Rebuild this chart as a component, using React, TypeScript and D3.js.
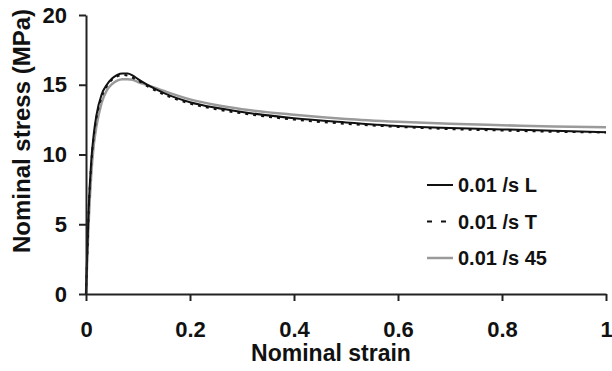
import { useEffect, useRef } from 'react';
import * as d3 from 'd3';

// strain values shared by all three curves
const strain = [0, 0.002, 0.005, 0.01, 0.015, 0.02, 0.03, 0.04, 0.05, 0.06, 0.07, 0.08, 0.09, 0.1, 0.12, 0.15, 0.2, 0.25, 0.3, 0.4, 0.5, 0.6, 0.7, 0.8, 0.9, 1.0];

const stressL = [0, 2.5, 6, 9.5, 11.5, 12.8, 14.3, 15.0, 15.45, 15.7, 15.8, 15.8, 15.65, 15.4, 14.95, 14.4, 13.75, 13.35, 13.05, 12.6, 12.3, 12.05, 11.9, 11.8, 11.7, 11.6];
const stressT = [0, 2.3, 5.8, 9.3, 11.3, 12.6, 14.1, 14.9, 15.35, 15.6, 15.7, 15.65, 15.5, 15.3, 14.85, 14.3, 13.65, 13.25, 12.95, 12.5, 12.2, 11.98, 11.82, 11.72, 11.63, 11.58];
const stress45 = [0, 2, 5, 8.5, 10.7, 12.0, 13.7, 14.6, 15.05, 15.3, 15.4, 15.4, 15.35, 15.2, 14.95, 14.55, 13.95, 13.55, 13.25, 12.85, 12.55, 12.35, 12.2, 12.1, 12.0, 11.95];

const xTicks = [0, 0.2, 0.4, 0.6, 0.8, 1];
const yTicks = [0, 5, 10, 15, 20];

const series = [
    { name: '0.01 /s L', values: stressL, color: '#111', width: 2, dash: null, legendDash: null },
    { name: '0.01 /s T', values: stressT, color: '#111', width: 2, dash: '3,5', legendDash: '5,9' },
    { name: '0.01 /s 45', values: stress45, color: '#9a9a9a', width: 2.5, dash: null, legendDash: null },
];

const W = 612;
const H = 371;
const margin = { top: 15, right: 6, bottom: 77, left: 86 };
const font = "'Liberation Sans', Arial, sans-serif";

export default function App() {
    const svgRef = useRef<SVGSVGElement>(null);

    useEffect(() => {
        const svg = d3.select(svgRef.current);
        svg.selectAll('*').remove();

        const innerW = W - margin.left - margin.right;
        const innerH = H - margin.top - margin.bottom;

        const x = d3.scaleLinear().domain([0, 1]).range([0, innerW]);
        const y = d3.scaleLinear().domain([0, 20]).range([innerH, 0]);

        const g = svg.append('g').attr('transform', `translate(${margin.left},${margin.top})`);

        // curves (gray first so black sits on top)
        const order = [2, 0, 1];
        order.forEach(i => {
            const s = series[i];
            const line = d3.line<number>()
                .x((_, k) => x(strain[k]))
                .y(d => y(d))
                .curve(d3.curveMonotoneX);
            g.append('path')
                .attr('d', line(s.values))
                .attr('fill', 'none')
                .attr('stroke', s.color)
                .attr('stroke-width', s.width)
                .attr('stroke-dasharray', s.dash);
        });

        // axes
        const xAxis = g.append('g')
            .attr('transform', `translate(0,${innerH})`)
            .call(d3.axisBottom(x).tickValues(xTicks).tickSize(7).tickSizeOuter(0).tickPadding(20).tickFormat(d => String(d)));
        const yAxis = g.append('g')
            .call(d3.axisLeft(y).tickValues(yTicks).tickSize(7).tickSizeOuter(0).tickPadding(12));

        [xAxis, yAxis].forEach(a => {
            a.attr('font-family', font).attr('font-weight', 'bold').attr('font-size', 22);
            a.select('.domain').attr('stroke', '#222').attr('stroke-width', 2);
            a.selectAll('line').attr('stroke', '#222').attr('stroke-width', 2);
            a.selectAll('text').attr('fill', '#111');
        });

        // axis titles
        g.append('text')
            .attr('x', 331 - margin.left)
            .attr('y', 361 - margin.top)
            .attr('text-anchor', 'middle')
            .attr('font-family', font)
            .attr('font-weight', 'bold')
            .attr('font-size', 23)
            .attr('fill', '#111')
            .text('Nominal strain');

        g.append('text')
            .attr('transform', 'rotate(-90)')
            .attr('x', -(131 - margin.top))
            .attr('y', 30 - margin.left)
            .attr('text-anchor', 'middle')
            .attr('font-family', font)
            .attr('font-weight', 'bold')
            .attr('font-size', 24)
            .attr('fill', '#111')
            .text('Nominal stress (MPa)');

        // legend
        const legend = g.append('g').attr('transform', `translate(${427 - margin.left},${185 - margin.top})`);
        series.forEach((s, i) => {
            const row = legend.append('g').attr('transform', `translate(0,${i * 36.5})`);
            row.append('line')
                .attr('x1', 0).attr('x2', 26)
                .attr('stroke', s.color)
                .attr('stroke-width', s.width)
                .attr('stroke-dasharray', s.legendDash);
            row.append('text')
                .attr('x', 31)
                .attr('dy', '0.35em')
                .attr('font-family', font)
                .attr('font-weight', 'bold')
                .attr('font-size', 20)
                .attr('fill', '#111')
                .text(s.name);
        });
    }, []);

    return (
        <svg ref={svgRef} width={W} height={H}
            style={{ position: 'absolute', left: 0, top: 0, background: '#fff' }} />
    );
}
